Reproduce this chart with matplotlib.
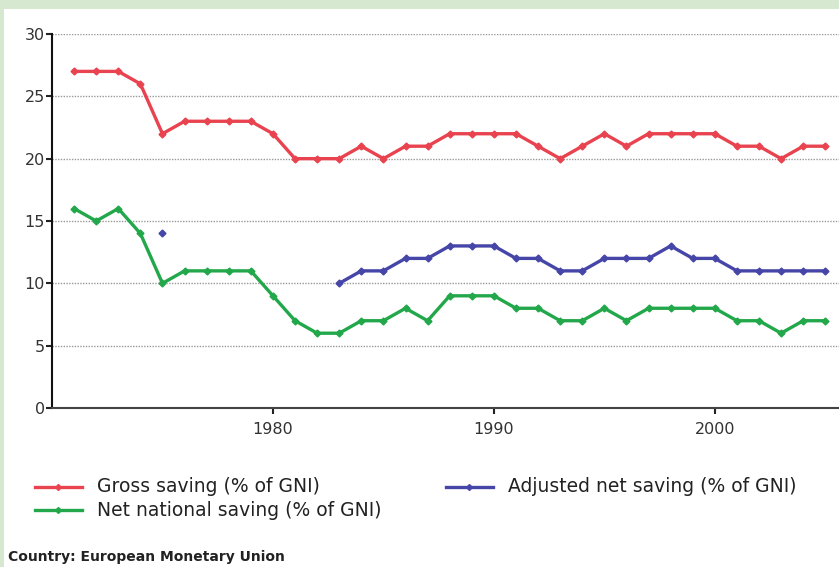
import numpy as np
import matplotlib
matplotlib.use("Agg")
import matplotlib.pyplot as plt
from matplotlib.lines import Line2D

years = list(range(1971, 2006))
gross = [27, 27, 27, 26, 22, 23, 23, 23, 23, 22, 20, 20, 20, 21, 20, 21, 21, 22, 22, 22,
         22, 21, 20, 21, 22, 21, 22, 22, 22, 22, 21, 21, 20, 21, 21]
net_national = [16, 15, 16, 14, 10, 11, 11, 11, 11, 9, 7, 6, 6, 7, 7, 8, 7, 9, 9, 9,
                8, 8, 7, 7, 8, 7, 8, 8, 8, 8, 7, 7, 6, 7, 7]
nan = np.nan
adjusted = [nan, nan, nan, nan, 14, nan, nan, nan, nan, nan, nan, nan, 10, 11, 11, 12, 12, 13, 13, 13,
            12, 12, 11, 11, 12, 12, 12, 13, 12, 12, 11, 11, 11, 11, 11]
labels = ["Gross saving (% of GNI)", "Net national saving (% of GNI)", "Adjusted net saving (% of GNI)"]
yticks = [0, 5, 10, 15, 20, 25, 30]
xticks = [1980, 1990, 2000]
footer = "Country: European Monetary Union"

c_red = "#e8434f"
c_green = "#22a84a"
c_blue = "#4646a8"

W, H = 839, 567
fig = plt.figure(figsize=(W / 100, H / 100), dpi=100)
fig.patch.set_facecolor("#d6e8d0")
fig.add_artist(plt.Rectangle((4 / W, 0), 1, 1 - 9 / H, transform=fig.transFigure,
                             facecolor="white", edgecolor="none", zorder=0))

ax = fig.add_axes([52 / W, 1 - 408 / H, (W - 52) / W + 0.01, (408 - 34) / H])
ax.set_facecolor("white")
ax.set_xlim(1970, 2006)
ax.set_ylim(0, 30)

for y in yticks[1:]:
    ax.axhline(y, color="#999999", lw=1.0, ls=(0, (1, 1)), zorder=1)

ms = 3.5
ax.plot(years, gross, color=c_red, lw=2.4, marker="D", ms=ms, zorder=3)
ax.plot(years, net_national, color=c_green, lw=2.4, marker="D", ms=ms, zorder=3)
ax.plot(years, adjusted, color=c_blue, lw=2.4, marker="D", ms=ms, zorder=3)

ax.set_yticks(yticks)
ax.set_xticks(xticks)
ax.tick_params(axis="both", labelsize=11.5, length=4, width=1.5, color="#222222", labelcolor="#333333")
ax.tick_params(axis="y", pad=1)
ax.tick_params(axis="x", pad=6)
for s in ["top", "right"]:
    ax.spines[s].set_visible(False)
ax.spines["left"].set_color("#111111")
ax.spines["left"].set_linewidth(1.5)
ax.spines["bottom"].set_color("#444444")
ax.spines["bottom"].set_linewidth(1.5)


def leg(x0, y0, color, text):
    fig.add_artist(Line2D([x0 / W, (x0 + 47) / W], [1 - y0 / H] * 2, color=color, lw=2.4,
                          transform=fig.transFigure))
    fig.add_artist(Line2D([(x0 + 23) / W], [1 - y0 / H], color=color, marker="D", ms=3,
                          transform=fig.transFigure))
    fig.text((x0 + 62) / W, 1 - y0 / H, text, fontsize=13.5, color="#222222",
             va="center", ha="left", family="DejaVu Sans")


leg(35, 487, c_red, labels[0])
leg(35, 510, c_green, labels[1])
leg(446, 487, c_blue, labels[2])

fig.text(8 / W, 1 - 557 / H, footer, fontsize=10, color="#222222", va="center", ha="left",
         family="DejaVu Sans", fontweight="bold")

fig.savefig("out.png", dpi=100)
